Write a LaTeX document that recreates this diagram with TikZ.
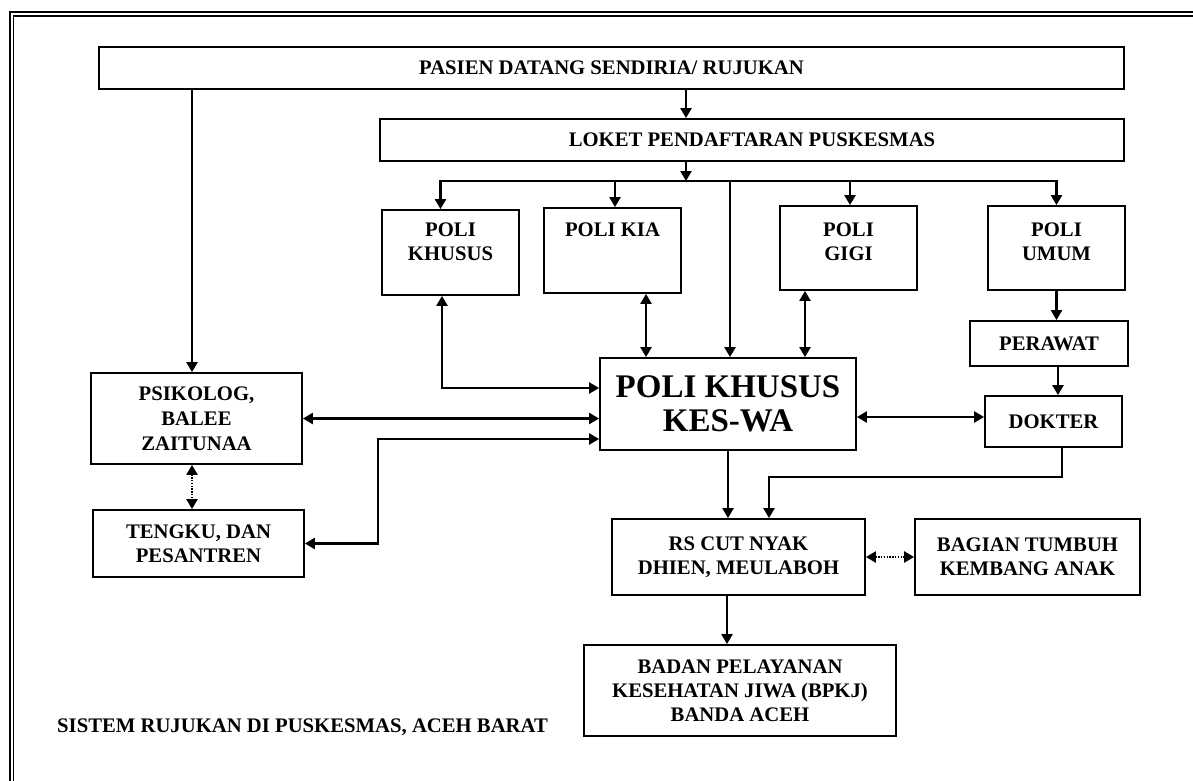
\documentclass[tikz,border=0pt]{standalone}
\usepackage{fontspec}
\setmainfont{Liberation Serif}
\usetikzlibrary{positioning,arrows.meta}

\begin{document}
\begin{tikzpicture}[
    x=1pt, y=-1pt,
    box/.style={rectangle, draw, line width=1.8pt, align=center,
                inner sep=0pt, font=\fontsize{20.7}{24}\selectfont\bfseries},
    poli/.style={box, minimum width=137pt, minimum height=85pt},
    lbl/.style={align=center, inner sep=0pt,
                font=\fontsize{20.7}{24}\selectfont\bfseries},
    arr/.style={-{Triangle[length=10pt,width=11pt]}, line width=2.3pt},
    darr/.style={{Triangle[length=10pt,width=11pt]}-{Triangle[length=10pt,width=11pt]},
                 line width=2.3pt},
    dotarr/.style={darr, dash pattern=on 1.4pt off 1.4pt},
  ]
  \useasboundingbox (0,0) rectangle (1193,781);

  % ===== page frame (double rule, top and left) =====
  \draw[line width=2pt] (1193,12.5) -- (10,12.5) -- (10,781);
  \draw[line width=1.2pt] (1193,16) -- (13.5,16) -- (13.5,781);

  % ===== entry =====
  \node[box, minimum width=1025pt, minimum height=42pt] (pasien) at (611.5,68)
    {PASIEN DATANG SENDIRIA/ RUJUKAN};
  \node[box, minimum width=744pt, minimum height=42pt] (loket) at (752,140)
    {LOKET PENDAFTARAN PUSKESMAS};
  \coordinate (tap) at (686,181);

  % ===== poli row =====
  \node[poli] (pkhusus) at (450.5,252.5) {};
  \node[lbl, below=13pt of pkhusus.north] (pkhususL) {POLI\\KHUSUS};
  \node[poli, minimum width=137pt] (pkia) at (612.5,250.5) {};
  \node[lbl, below=15pt of pkia.north] (pkiaL) {POLI KIA};
  \node[poli, minimum height=84pt] (pgigi) at (848.5,248) {};
  \node[lbl, below=17pt of pgigi.north] (pgigiL) {POLI\\GIGI};
  \node[poli, minimum height=84pt] (pumum) at (1056.5,248) {};
  \node[lbl, below=17pt of pumum.north] (pumumL) {POLI\\UMUM};

  \node[box, minimum width=158pt, minimum height=45pt] (perawat) at (1049,343.5) {PERAWAT};
  \node[box, minimum width=137pt, minimum height=51pt] (dokter) at (1053.5,421.5) {DOKTER};

  % ===== centre =====
  \node[box, minimum width=256pt, minimum height=92pt,
        font=\fontsize{33}{34}\selectfont\bfseries] (keswa) at (728,404)
    {POLI KHUSUS\\KES-WA};

  % ===== left side =====
  \node[box, minimum width=211pt, minimum height=91pt, font=\fontsize{20.7}{25}\selectfont\bfseries]
    (psikolog) at (196.5,418.5) {PSIKOLOG,\\BALEE\\ZAITUNAA};
  \node[box, minimum width=211pt, minimum height=67pt] (tengku) at (198.5,543.5)
    {TENGKU, DAN\\PESANTREN};

  % ===== referral =====
  \node[box, minimum width=253pt, minimum height=76pt] (rs) at (738.5,557)
    {RS CUT NYAK\\DHIEN, MEULABOH};
  \node[box, minimum width=225pt, minimum height=76pt] (bagian) at (1027.5,557)
    {BAGIAN TUMBUH\\KEMBANG ANAK};
  \node[box, minimum width=312pt, minimum height=91pt] (bpkj) at (740,690.5)
    {BADAN PELAYANAN\\KESEHATAN JIWA (BPKJ)\\BANDA ACEH};

  \node[lbl, anchor=west] (caption) at (57,727) {SISTEM RUJUKAN DI PUSKESMAS, ACEH BARAT};

  % entry arrows
  \draw[arr] (pasien.south -| tap) -- (loket.north -| tap);
  \draw[arr] (loket.south -| tap) -- (tap);
  \draw[arr] ([xshift=-4.5pt]pasien.south -| psikolog.north) -- ([xshift=-4.5pt]psikolog.north);

  % bus to poli
  \draw[arr] (tap) -| ([xshift=-10pt]pkhusus.north);
  \draw[arr] (tap) -| ([xshift=2.5pt]pkia.north);
  \draw[arr] (tap) -| ([xshift=2pt]keswa.north);
  \draw[arr] (tap) -| ([xshift=1.5pt]pgigi.north);
  \draw[arr] (tap) -| (pumum.north);

  % poli <-> kes-wa
  \draw[darr] ([xshift=-8.5pt]pkhusus.south) |- ([yshift=16pt]keswa.west);
  \draw[darr] ([xshift=33.5pt]pkia.south) -- ([xshift=33.5pt]pkia.south |- keswa.north);
  \draw[darr] ([xshift=-43.5pt]pgigi.south) -- ([xshift=-43.5pt]pgigi.south |- keswa.north);

  % poli umum chain
  \draw[arr] (pumum.south) -- (pumum.south |- perawat.north);
  \draw[arr] ([xshift=4.5pt]dokter.north |- perawat.south) -- ([xshift=4.5pt]dokter.north);
  \draw[darr] ([yshift=-13pt]keswa.east) -- ([yshift=-13pt]keswa.east -| dokter.west);

  % left side links
  \draw[darr] (psikolog.east) -- (psikolog.east -| keswa.west);
  \draw[darr] (tengku.east) -- ++(73,0) |- ([yshift=-35pt]keswa.west);
  \draw[dotarr] ([xshift=-4.5pt]psikolog.south) -- ([xshift=-4.5pt]psikolog.south |- tengku.north);

  % referral links
  \draw[arr] (keswa.south) -- (keswa.south |- rs.north);
  \draw[arr] ([xshift=8.5pt]dokter.south) -- ++(0,29) -| ([xshift=30.5pt]rs.north);
  \draw[dotarr] (rs.east) -- (bagian.west);
  \draw[arr] ([xshift=-11.5pt]rs.south) -- ([xshift=-11.5pt]rs.south |- bpkj.north);

\end{tikzpicture}
\end{document}
